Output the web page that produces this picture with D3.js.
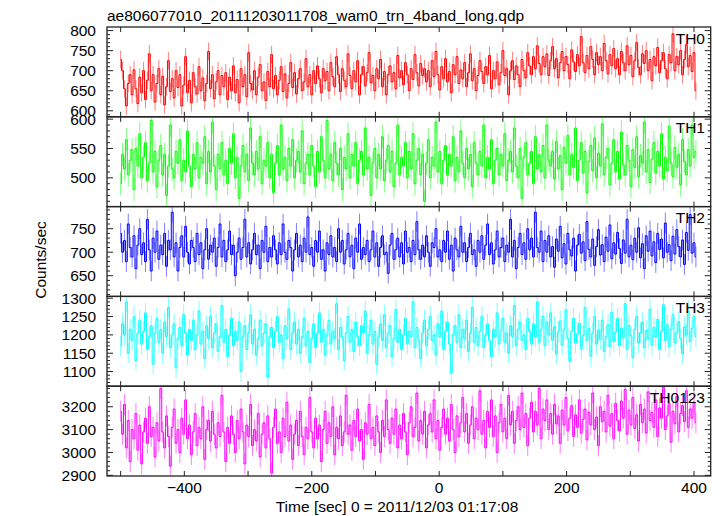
<!DOCTYPE html>
<html><head><meta charset="utf-8">
<script src="https://cdn.jsdelivr.net/npm/d3@7"></script>
<style>body{margin:0;background:#fff}svg{display:block}text{font-family:"Liberation Sans",Arial,sans-serif;fill:#000}</style>
</head><body><svg id="c" width="720" height="516"></svg>
<script>
const title = "ae806077010_20111203011708_wam0_trn_4band_long.qdp";
const xLabel = "Time [sec] 0 = 2011/12/03 01:17:08";
const yLabel = "Counts/sec";
const tStart = -500, tStep = 3;
const panelNames = ["TH0","TH1","TH2","TH3","TH0123"];
const xTickLabels = [-400,-200,0,200,400];

const th0 = [728,700,655,612,668,690,640,702,655,618,684,645,700,628,676,742,650,690,622,668,705,640,686,615,660,725,648,680,632,700,658,690,612,664,735,645,676,620,695,660,642,710,650,682,625,668,748,655,690,630,672,700,640,688,660,695,628,684,650,712,645,678,620,705,660,690,635,745,668,652,700,640,684,715,650,672,626,698,660,740,655,688,640,676,710,648,692,632,668,720,658,695,642,680,705,650,672,730,660,690,640,700,668,712,680,645,705,675,698,650,720,685,660,735,690,648,705,676,660,742,688,655,700,672,725,640,690,710,662,695,745,670,688,650,705,680,728,660,698,640,690,712,672,695,655,738,682,700,665,720,690,650,705,678,740,695,662,718,688,705,672,700,660,725,685,748,690,652,710,680,730,672,698,645,715,690,735,668,702,680,720,660,695,742,675,705,650,688,725,698,668,710,690,738,655,700,680,722,665,695,750,688,705,640,700,725,678,712,690,660,728,700,682,745,712,690,735,705,762,718,690,735,710,742,688,725,760,705,730,682,720,748,700,735,715,680,752,722,698,740,712,785,720,695,738,705,760,728,690,745,715,735,700,768,725,692,740,712,755,705,730,690,748,720,700,762,715,738,685,725,770,708,690,742,718,750,700,728,675,735,712,758,695,725,745,705,680,740,720,792,700,735,715,750,690,728,765,710,738,698,745,650];
const th1 = [490,540,515,565,505,530,548,480,550,520,575,500,535,560,495,525,598,510,545,485,530,555,505,540,470,520,590,515,500,545,525,565,495,530,510,580,520,485,540,515,560,500,535,525,570,490,545,510,595,520,480,540,515,560,505,530,490,550,525,575,500,535,465,520,555,510,540,495,585,525,505,545,515,570,490,530,520,560,500,540,475,525,555,505,590,515,535,495,550,520,565,500,530,545,510,580,490,525,540,505,555,520,485,545,510,570,530,500,598,515,540,495,560,525,505,550,480,535,515,575,500,540,520,560,490,530,545,505,585,515,535,470,525,550,500,540,515,570,495,530,555,510,545,485,525,590,505,535,520,560,500,545,515,575,490,530,550,505,540,460,525,565,500,535,520,595,510,545,490,530,555,505,540,520,570,495,535,510,580,525,500,550,515,540,485,560,525,505,545,520,590,500,535,515,565,490,530,550,505,540,520,575,495,530,545,510,585,520,500,550,465,535,560,505,525,545,490,570,515,540,510,555,500,590,530,520,545,498,562,515,538,480,552,525,572,505,540,518,585,495,530,560,508,545,475,528,555,512,568,500,542,520,592,505,535,550,488,525,565,510,545,498,578,522,505,555,530,485,548,518,570,502,538,525,595,510,548,492,532,560,508,545,520,575,498,535,512,588,525,502,552,518,540,488,565,528,505,548,520,590,535,545];
const th2 = [740,700,725,680,760,710,690,735,665,715,750,695,720,680,770,705,660,730,700,745,685,715,695,740,670,725,705,785,690,720,660,710,735,690,755,700,675,725,710,680,740,695,720,665,705,750,685,715,700,730,670,710,760,690,725,680,705,745,695,715,650,700,730,685,710,770,690,720,675,705,740,695,715,665,725,700,755,680,710,690,735,705,675,720,695,760,700,685,725,710,660,705,740,690,715,680,730,700,775,695,710,670,725,700,745,685,705,660,720,695,735,690,710,680,750,700,725,675,705,740,690,715,665,730,700,760,685,710,695,725,680,705,745,690,720,670,710,735,695,700,655,715,740,685,705,730,690,720,675,745,700,710,680,725,695,765,705,685,715,690,735,700,670,720,710,750,690,705,680,725,700,745,685,715,660,730,705,690,755,700,720,680,710,740,695,705,670,725,700,735,685,715,760,695,720,675,705,745,690,710,730,680,715,700,770,690,725,665,710,740,695,720,685,750,705,730,690,785,710,700,745,680,725,700,735,690,712,668,728,702,755,688,718,675,740,705,692,730,660,715,738,698,722,682,765,706,690,728,672,712,748,694,716,680,732,702,758,686,720,696,742,708,676,726,698,770,690,715,684,730,700,752,688,718,665,735,702,745,692,722,678,740,706,728,688,762,700,716,682,734,696,748,712,690,726,674,742,704,780,698,720,690];
const th3 = [1170,1230,1200,1290,1150,1215,1185,1250,1130,1205,1240,1175,1210,1260,1160,1195,1225,1120,1205,1245,1180,1215,1150,1235,1195,1275,1165,1200,1230,1110,1190,1220,1170,1255,1205,1145,1215,1185,1240,1160,1200,1265,1175,1210,1135,1225,1190,1250,1165,1205,1230,1155,1195,1280,1180,1215,1140,1200,1245,1170,1210,1185,1235,1100,1195,1225,1160,1205,1255,1175,1215,1145,1190,1240,1170,1205,1230,1085,1195,1220,1165,1210,1250,1180,1200,1135,1225,1190,1270,1160,1205,1235,1175,1215,1150,1195,1245,1170,1210,1125,1190,1230,1165,1205,1260,1180,1215,1145,1200,1240,1175,1210,1190,1285,1160,1220,1195,1130,1205,1250,1180,1215,1155,1235,1195,1170,1225,1205,1265,1150,1200,1240,1175,1210,1120,1195,1230,1185,1255,1165,1205,1225,1140,1190,1270,1180,1215,1160,1200,1245,1175,1210,1195,1290,1165,1220,1185,1135,1205,1240,1170,1215,1250,1185,1200,1145,1230,1195,1265,1160,1210,1235,1175,1095,1200,1225,1180,1255,1165,1215,1190,1240,1155,1205,1275,1180,1220,1170,1210,1250,1165,1200,1230,1185,1140,1215,1195,1260,1175,1210,1245,1180,1205,1150,1225,1195,1280,1170,1215,1235,1185,1200,1160,1245,1210,1175,1230,1195,1290,1180,1215,1250,1170,1235,1200,1260,1185,1222,1148,1208,1238,1172,1215,1268,1190,1128,1210,1245,1178,1202,1232,1162,1198,1275,1185,1218,1142,1205,1250,1175,1212,1188,1240,1155,1196,1228,1168,1262,1182,1208,1245,1170,1218,1192,1285,1160,1225,1198,1138,1215,1250,1178,1206,1235,1165,1212,1190,1270,1172,1220,1195,1242,1160,1210,1282,1185,1228,1168,1215,1255,1178,1205,1236,1190,1148,1222,1200,1265,1182,1218,1250,1195];
const th0123 = [3180,3080,3210,3020,3140,2960,3100,3060,3170,3010,3120,2950,3090,3150,3040,3200,3070,3110,2980,3130,3050,3280,3090,3020,3160,3070,2940,3110,3190,3040,3100,3000,3150,3080,3230,3060,3120,2990,3090,3170,3030,3110,3060,3200,2970,3100,3140,3050,3180,3080,3020,3130,3070,3250,3090,2960,3110,3040,3160,3080,3000,3140,3060,3190,3090,2950,3120,3070,3210,3030,3100,3050,3170,2980,3080,3130,3020,3160,3060,2910,3110,3190,3040,3090,3000,3150,3070,3220,3050,3120,2970,3080,3140,3030,3180,3070,2990,3110,3060,3240,3090,3020,3150,3060,3120,2960,3100,3180,3040,3130,3070,3200,2990,3110,3060,3160,3030,3090,3250,3080,3120,3010,3140,3070,3190,3050,3100,2970,3130,3080,3210,3060,3110,3030,3160,3090,3000,3140,3070,3230,3100,3040,3150,3080,3190,3020,3120,3060,3170,3090,2990,3130,3200,3070,3110,3260,3050,3140,3080,3180,3020,3120,3170,3090,3230,3060,3140,3010,3110,3190,3080,3150,3050,3210,3100,3000,3160,3070,3130,3240,3090,3170,3040,3120,3200,3060,3150,3100,3270,3080,3140,3020,3180,3110,3230,3070,3160,3000,3130,3210,3090,3150,3060,3250,3120,3180,3040,3140,3200,3100,3260,3110,3170,3030,3150,3220,3090,3180,3120,3280,3060,3190,3140,3230,3100,3170,3080,3210,3125,3160,3040,3185,3120,3240,3095,3150,3205,3070,3165,3110,3230,3085,3145,3190,3055,3175,3120,3260,3100,3155,3030,3200,3135,3180,3090,3250,3115,3170,3060,3215,3140,3095,3225,3150,3275,3080,3185,3120,3240,3105,3165,3050,3210,3130,3190,3085,3265,3140,3175,3110,3230,3070,3195,3150,3285,3100,3160,3215,3045,3180,3125,3245,3090,3170,3205,3135,3270,3110,3190,3150,3220,3130];
const series = [th0, th1, th2, th3, th0123];
const colors = ["#ff0000","#00ff00","#0000ff","#00ffff","#ff00ff"];
const errs = [22, 20, 22, 28, 46];
const yDomains = [[585,809],[451,604],[606,797],[1060,1305],[2897,3290]];
const yTickVals = [[600,650,700,750,800],[500,550,600],[650,700,750],[1100,1150,1200,1250,1300],[2900,3000,3100,3200]];
const yMinorStep = [10,10,10,10,20];

const svg = d3.select("#c");
const L = 107, R = 710.7, T = 27, B = 476;
const panelH = (B - T) / 5;
const x = d3.scaleLinear().domain([-521.4, 426.2]).range([L, R]);
const fs = 15.5;

svg.append("defs").selectAll("clipPath").data(series).join("clipPath")
  .attr("id", (d,i) => "clip" + i)
  .append("rect").attr("x", L).attr("y", (d,i) => T + i*panelH).attr("width", R-L).attr("height", panelH);

series.forEach((vals, p) => {
  const y0 = T + p*panelH, y1 = y0 + panelH;
  const y = d3.scaleLinear().domain(yDomains[p]).range([y1, y0]);
  const pts = vals.map((v,i) => ({t: tStart + i*tStep, v}));
  const g = svg.append("g").attr("clip-path", `url(#clip${p})`);
  g.selectAll("line.err").data(pts).join("line")
    .attr("x1", d => x(d.t)).attr("x2", d => x(d.t))
    .attr("y1", d => y(d.v - errs[p])).attr("y2", d => y(d.v + errs[p]))
    .attr("stroke", colors[p]).attr("stroke-opacity", 0.5).attr("stroke-width", 1);
  g.append("path").datum(pts)
    .attr("d", d3.line().curve(d3.curveStep).x(d => x(d.t)).y(d => y(d.v)))
    .attr("fill", "none").attr("stroke", colors[p]).attr("stroke-width", 1);

  const [lo, hi] = yDomains[p];
  const minor = d3.range(Math.ceil(lo/yMinorStep[p])*yMinorStep[p], hi, yMinorStep[p]);
  const ax = svg.append("g").attr("stroke", "#222").attr("stroke-width", 1);
  minor.forEach(v => {
    const major = v % 50 === 0 && (p < 4 || v % 100 === 0);
    const len = major ? 6 : 3;
    ax.append("line").attr("x1", L).attr("x2", L+len).attr("y1", y(v)).attr("y2", y(v));
    ax.append("line").attr("x1", R).attr("x2", R-len).attr("y1", y(v)).attr("y2", y(v));
  });
  d3.range(-500, 401, 100).forEach(t => {
    ax.append("line").attr("x1", x(t)).attr("x2", x(t)).attr("y1", y0).attr("y2", y0+5);
    ax.append("line").attr("x1", x(t)).attr("x2", x(t)).attr("y1", y1).attr("y2", y1-5);
  });
  svg.append("g").selectAll("text").data(yTickVals[p]).join("text")
    .attr("x", 96).attr("y", d => y(d)).attr("dy", "0.36em")
    .attr("text-anchor", "end").attr("font-size", fs).text(d => d);
  svg.append("text").attr("x", 705).attr("y", y0 + 16.5).attr("text-anchor", "end")
    .attr("font-size", fs).text(panelNames[p]);
  svg.append("rect").attr("x", L).attr("y", y0).attr("width", R-L).attr("height", panelH)
    .attr("fill", "none").attr("stroke", "#222").attr("stroke-width", 1.3);
});

svg.append("g").selectAll("text").data(xTickLabels).join("text")
  .attr("x", d => x(d)).attr("y", 493).attr("text-anchor", "middle").attr("font-size", fs)
  .text(d => d < 0 ? "\u2212" + Math.abs(d) : d);
svg.append("text").attr("x", 397).attr("y", 512).attr("text-anchor", "middle").attr("font-size", fs).text(xLabel);
svg.append("text").attr("transform", "translate(46,260) rotate(-90)").attr("text-anchor", "middle").attr("font-size", fs).text(yLabel);
svg.append("text").attr("x", 107).attr("y", 20.5).attr("font-size", fs).text(title);
</script></body></html>
